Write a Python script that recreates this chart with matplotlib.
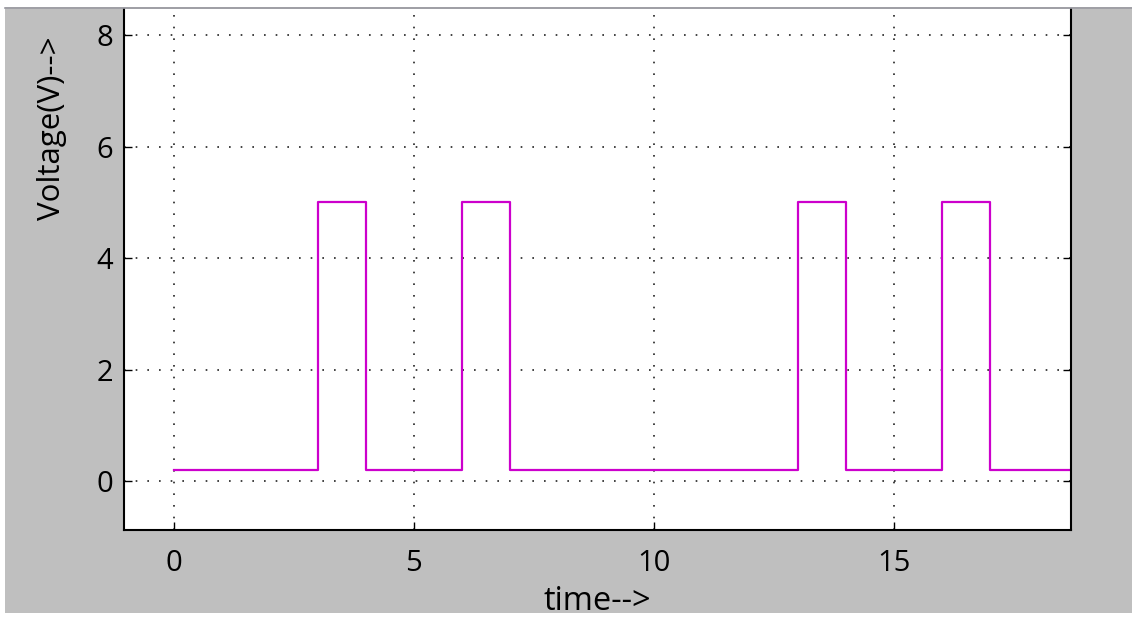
import matplotlib
matplotlib.use("Agg")
import matplotlib.pyplot as plt
from matplotlib.lines import Line2D
from matplotlib.patches import Rectangle

# digital pulse train
t_edges = [0, 3, 4, 6, 7, 13, 14, 16, 17, 19]
volts = [0.2, 5, 0.2, 5, 0.2, 5, 0.2, 5, 0.2, 0.2]
xticks = [0, 5, 10, 15]
yticks = [0, 2, 4, 6, 8]

plt.rcParams["font.family"] = ["Open Sans", "DejaVu Sans"]

W, H = 1132, 617
fig = plt.figure(figsize=(W / 100, H / 100), dpi=100, facecolor="#bfbfbf")

# white margin strips from the screenshot crop
fig.patches.append(Rectangle((0, (H - 7) / H), 1, 7 / H, transform=fig.transFigure,
                             facecolor="white", edgecolor="none", zorder=0))
fig.patches.append(Rectangle((0, 0), 5 / W, 1, transform=fig.transFigure,
                             facecolor="white", edgecolor="none", zorder=0))
fig.patches.append(Rectangle((0, 0), 1, 4 / H, transform=fig.transFigure,
                             facecolor="white", edgecolor="none", zorder=0))
fig.lines.append(Line2D([5 / W, 1], [(H - 8) / H, (H - 8) / H], transform=fig.transFigure,
                        color="#9a9aa2", lw=1.2))

ax = fig.add_axes([124 / W, 87 / H, (1071 - 124) / W, (608 - 87) / H])
ax.step(t_edges, volts, where="post", color="#cc00cc", lw=1.6)

ax.set_xlim(-1.04, 18.69)
ax.set_ylim(-0.88, 8.47)
ax.set_xticks(xticks)
ax.set_yticks(yticks)
ax.grid(True, color="#222222", linestyle=(0, (1, 6)), lw=1.2)

ax.spines["top"].set_visible(False)
for s in ["left", "right", "bottom"]:
    ax.spines[s].set_linewidth(1.5)
ax.tick_params(direction="in", length=6, width=1, labelsize=21,
               left=True, right=True, bottom=True, top=False)
ax.tick_params(axis="x", pad=14)
ax.tick_params(axis="y", pad=8)

fig.text(597 / W, (H - 601) / H, "time-->", fontsize=23.5, ha="center", va="center")
fig.text(52 / W, (H - 128) / H, "Voltage(V)-->", fontsize=22.5, rotation=90,
         ha="center", va="center")

fig.savefig("out.png", dpi=100, facecolor=fig.get_facecolor())
